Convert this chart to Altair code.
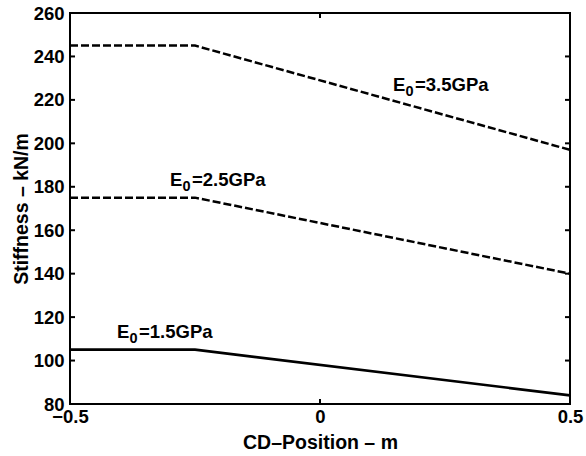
import altair as alt
import pandas as pd

# ---- data ----
cd_position = [-0.5, -0.25, 0.5]
stiffness_35 = [245, 245, 197]
stiffness_25 = [175, 175, 140]
stiffness_15 = [105, 105, 84]

y_tick_values = [80, 100, 120, 140, 160, 180, 200, 220, 240, 260]
x_tick_values = [-0.5, 0, 0.5]

label_rest = ["=3.5GPa", "=2.5GPa", "=1.5GPa"]
label_x = [0.146, -0.30, -0.406]
label_y = [224.2, 180.4, 110.4]

FONT = "Liberation Sans"
W, H = 500, 391

rows = []
for name, vals, style in [("3.5", stiffness_35, "dashed"),
                          ("2.5", stiffness_25, "dashed"),
                          ("1.5", stiffness_15, "solid")]:
    for xv, yv in zip(cd_position, vals):
        rows.append({"series": name, "x": xv, "y": yv, "style": style})
lines_df = pd.DataFrame(rows)
labels_df = pd.DataFrame({"x": label_x, "y": label_y, "rest": label_rest})
yt_df = pd.DataFrame({"v": y_tick_values})
xt_df = pd.DataFrame({"v": x_tick_values})

x_scale = alt.Scale(domain=[-0.5, 0.5], nice=False, zero=False)
y_scale = alt.Scale(domain=[80, 260], nice=False, zero=False)

x_axis = alt.Axis(values=x_tick_values, format=".1~f", title="CD\u2013Position \u2013 m",
                  grid=False, domain=False, ticks=False, tickSize=0, labelPadding=3,
                  labelFont=FONT, labelFontSize=18.5, labelFontWeight="bold", labelColor="black",
                  labelFlush=False, labelOverlap=False,
                  titleFont=FONT, titleFontSize=19.5, titleFontWeight="bold", titleColor="black",
                  titleY=44, titleBaseline="alphabetic")
y_axis = alt.Axis(values=y_tick_values, format="d", title="Stiffness \u2013 kN/m",
                  grid=False, domain=False, ticks=False, tickSize=0, labelPadding=6,
                  labelFont=FONT, labelFontSize=18.5, labelFontWeight="bold", labelColor="black",
                  labelFlush=False, labelOverlap=False,
                  titleFont=FONT, titleFontSize=19.5, titleFontWeight="bold", titleColor="black",
                  titleX=-49, titleY=H / 2, titleBaseline="middle", titleAngle=-90)

X = alt.X("x:Q", scale=x_scale, axis=x_axis)
Y = alt.Y("y:Q", scale=y_scale, axis=y_axis)

dashed = alt.Chart(lines_df[lines_df["style"] == "dashed"]).mark_line(
    color="black", strokeWidth=2.5, strokeDash=[8, 3]
).encode(x=X, y=Y, detail="series:N")

solid = alt.Chart(lines_df[lines_df["style"] == "solid"]).mark_line(
    color="black", strokeWidth=2.7
).encode(x=X, y=Y, detail="series:N")

tick_y = alt.Y("v:Q", scale=y_scale, axis=y_axis)
tick_x = alt.X("v:Q", scale=x_scale, axis=x_axis)
ytl = alt.Chart(yt_df).mark_rule(color="black", strokeWidth=2).encode(
    y=tick_y, x=alt.value(0), x2=alt.value(5))
ytr = alt.Chart(yt_df).mark_rule(color="black", strokeWidth=2).encode(
    y=tick_y, x=alt.value(W), x2=alt.value(W - 5))
xtb = alt.Chart(xt_df).mark_rule(color="black", strokeWidth=2).encode(
    x=tick_x, y=alt.value(H), y2=alt.value(H - 5))
xtt = alt.Chart(xt_df).mark_rule(color="black", strokeWidth=2).encode(
    x=tick_x, y=alt.value(0), y2=alt.value(5))

txt_common = dict(font=FONT, fontWeight="bold", color="black", align="left", baseline="alphabetic")
t_e = alt.Chart(labels_df).mark_text(fontSize=18.5, **txt_common).encode(
    x=X, y=Y, text=alt.value("E"))
t_0 = alt.Chart(labels_df).mark_text(fontSize=14.5, dx=12.5, dy=5, **txt_common).encode(
    x=X, y=Y, text=alt.value("0"))
t_rest = alt.Chart(labels_df).mark_text(fontSize=18.5, dx=22, **txt_common).encode(
    x=X, y=Y, text="rest:N")

chart = alt.layer(dashed, solid, ytl, ytr, xtb, xtt, t_e, t_0, t_rest).properties(
    width=W, height=H,
    autosize=alt.AutoSizeParams(type="none"),
    padding={"left": 70, "top": 13, "right": 16, "bottom": 52},
    background="white",
).configure_view(stroke="black", strokeWidth=2)

chart.save("out.html", embed_options={"renderer": "svg", "actions": False})
